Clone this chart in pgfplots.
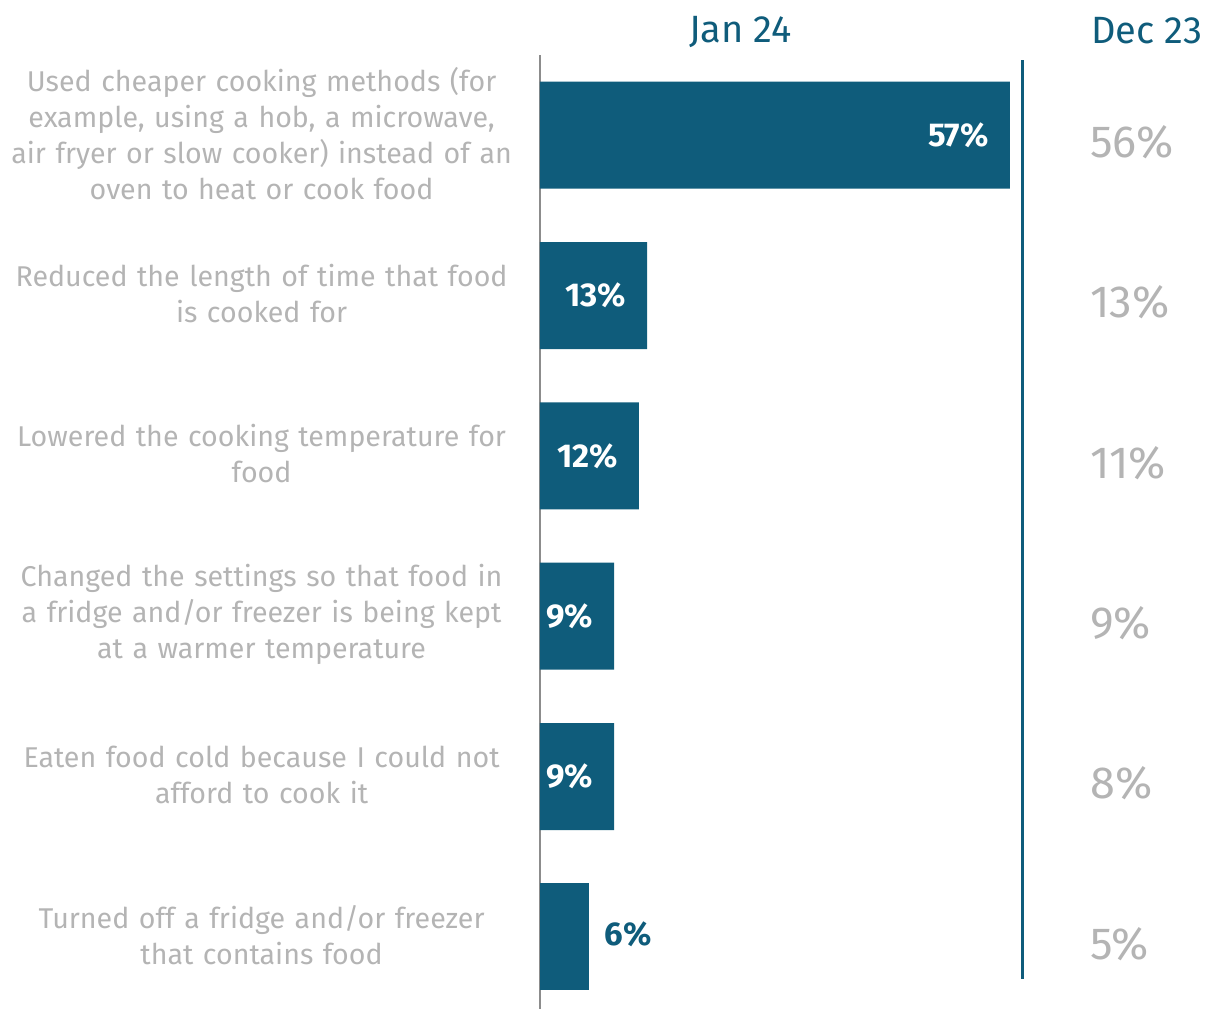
\documentclass[border=0pt]{standalone}
\usepackage{fontspec}
\setmainfont{Fira Sans}
\usepackage{pgfplots}
\pgfplotsset{compat=1.18}
\definecolor{barblue}{HTML}{0F5C7B}
\definecolor{lblgray}{HTML}{B4B4B4}
\begin{document}
\begin{tikzpicture}
\useasboundingbox (0,0) rectangle (603pt,504.5pt);
\begin{axis}[
  at={(270pt,0pt)}, anchor=south west,
  scale only axis,
  width=329.8pt, height=477pt,
  xmin=0, xmax=80, ymin=-0.5, ymax=5.45,
  y dir=reverse,
  axis x line=none,
  axis y line*=left,
  y axis line style={draw=black!45, line width=0.6pt, -},
  /pgf/number format/assume math mode=true,
  ytick={0,1,2,3,4,5},
  major tick length=0pt,
  yticklabels={
    {Used cheaper cooking methods (for\\example, using a hob, a microwave,\\air fryer or slow cooker) instead of an\\oven to heat or cook food},
    {Reduced the length of time that food\\is cooked for},
    {Lowered the cooking temperature for\\food},
    {Changed the settings so that food in\\a fridge and/or freezer is being kept\\at a warmer temperature},
    {Eaten food cold because I could not\\afford to cook it},
    {Turned off a fridge and/or freezer\\that contains food}},
  yticklabel style={text width=255pt, align=center, inner sep=0pt,
    xshift=-11.5pt, yshift=1pt, font=\fontsize{14.3}{18}\selectfont, text=lblgray},
  clip=false,
  xbar, bar shift=0pt, bar width=53.5pt,
]
% Jan 24, labels inside
\addplot[fill=barblue, draw=none,
  nodes near coords={\pgfmathprintnumber{\pgfplotspointmeta}\%},
  nodes near coords style={anchor=east, xshift=-7pt, text=white,
    font=\fontsize{16.5}{18}\selectfont\bfseries}]
  coordinates {(57,0) (13,1) (12,2) (9,3) (9,4)};
% Jan 24, label outside
\addplot[fill=barblue, draw=none,
  nodes near coords={\pgfmathprintnumber{\pgfplotspointmeta}\%},
  nodes near coords style={anchor=west, xshift=4pt, yshift=1.5pt, text=barblue,
    font=\fontsize{16.5}{18}\selectfont\bfseries}]
  coordinates {(6,5)};
% Dec 23
\addplot[draw=none, mark=none, xbar=0pt, bar width=0pt,
  point meta=explicit,
  nodes near coords={\pgfmathprintnumber{\pgfplotspointmeta}\%},
  nodes near coords style={anchor=west, inner sep=0pt, yshift=-3.5pt, text=lblgray,
    font=\fontsize{22.5}{24}\selectfont}]
  table[meta=v] {
x y v
66.7 0 56
66.7 1 13
66.7 2 11
66.7 3 9
66.7 4 8
66.7 5 5
};
\draw[barblue, line width=1.5pt] (axis cs:58.46,-0.468) -- (axis cs:58.46,5.26);
\node[text=barblue, font=\fontsize{19}{20}\selectfont] at (axis cs:24.3,-0.643) {Jan 24};
\node[text=barblue, font=\fontsize{19}{20}\selectfont] at (axis cs:73.6,-0.655) {Dec 23};
\end{axis}
\end{tikzpicture}
\end{document}
